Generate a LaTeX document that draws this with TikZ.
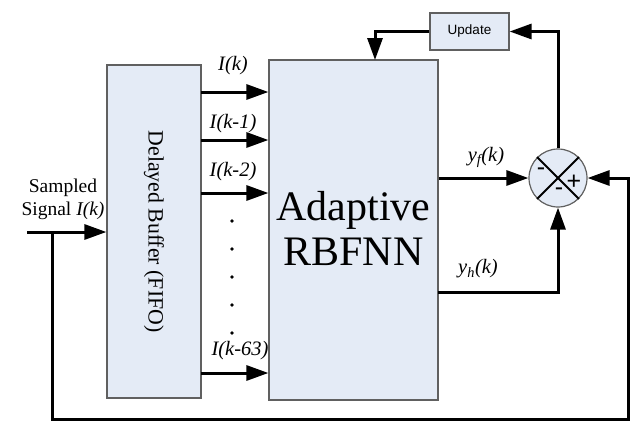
\documentclass[tikz,border=0pt]{standalone}
\usepackage{fontspec}
\setmainfont{Liberation Serif}
\newfontfamily\arialfont{Liberation Sans}
\usetikzlibrary{arrows.meta}
\definecolor{boxfill}{RGB}{228,235,246}
\definecolor{boxline}{RGB}{96,96,96}

\begin{document}
\begin{tikzpicture}[x=1pt, y=-1pt,
    block/.style={draw=boxline, fill=boxfill, line width=1.2pt, inner sep=0pt},
    conn/.style={line width=3pt},
    arr/.style={conn, -{Triangle[length=22pt, width=15pt]}},
    lbl/.style={font=\fontsize{20.5}{22}\selectfont\itshape},
    sign/.style={font=\arialfont\fontsize{25}{25}\selectfont, inner sep=0pt}]
  \useasboundingbox (0,0) rectangle (630,421);

  % blocks
  \node[block, minimum width=94pt, minimum height=333pt] (buf) at (154,231.5) {};
  \node[rotate=-90, font=\fontsize{21.8}{24}\selectfont] (buftext) at (buf.center) {Delayed Buffer (FIFO)};
  \node[block, minimum width=169pt, minimum height=340pt] (rbf) at (353.5,230) {};
  \node[align=center, font=\fontsize{42}{45}\selectfont] (rbftext) at (353.5,228) {Adaptive\\RBFNN};
  \node[block, minimum width=79pt, minimum height=37pt, font=\arialfont\fontsize{13.5}{15}\selectfont] (upd) at (469.5,31.5) {Update};
  \node[block, circle, minimum size=58pt] (sum) at (558,178) {};
  \draw[line width=1.8pt] (sum.north west) -- (sum.south east);
  \draw[line width=1.8pt] (sum.north east) -- (sum.south west);
  \node[sign] (m1) at (541,172) {-};
  \node[sign] (p1) at (574,182) {+};
  \node[sign] (m2) at (559,192) {-};

  % input and feedback
  \coordinate (in) at (27,232);
  \coordinate (tap) at (52,232);
  \coordinate (fb) at (628,419.5);
  \node[align=center, font=\fontsize{19.5}{23}\selectfont] (sig) at (63,199) {Sampled\\Signal \textit{I(k)}};
  \draw[arr] (in) -- (in -| buf.west);
  \draw[arr] (tap) |- (fb) |- (sum.east);

  % buffer outputs
  \coordinate (o1) at (201,92);
  \coordinate (o2) at (201,140);
  \coordinate (o3) at (201,193);
  \coordinate (o4) at (201,373);
  \draw[arr] (o1) -- (o1 -| rbf.west);
  \draw[arr] (o2) -- (o2 -| rbf.west);
  \draw[arr] (o3) -- (o3 -| rbf.west);
  \draw[arr] (o4) -- (o4 -| rbf.west);
  \node[lbl] (l1) at (233,66) {I(k)};
  \node[lbl] (l2) at (233,124) {I(k-1)};
  \node[lbl] (l3) at (233,172) {I(k-2)};
  \node[lbl] (l4) at (240,351) {I(k-63)};
  \foreach \y in {221,249,277,305,333}
    \fill (232,\y) circle (1.8);

  % outputs and update
  \coordinate (yh) at (438,292);
  \coordinate (rbfin) at (375,60);
  \draw[arr] (rbf.east |- sum) -- (sum.west);
  \draw[arr] (yh) -| (sum.south);
  \draw[arr] (sum.north) |- (upd.east);
  \draw[arr] (upd.west) -| (rbfin);
  \node[lbl] (yf) at (486,157) {y\textsubscript{f}(k)};
  \node[lbl] (yhl) at (478,269) {y\textsubscript{h}(k)};
\end{tikzpicture}
\end{document}
